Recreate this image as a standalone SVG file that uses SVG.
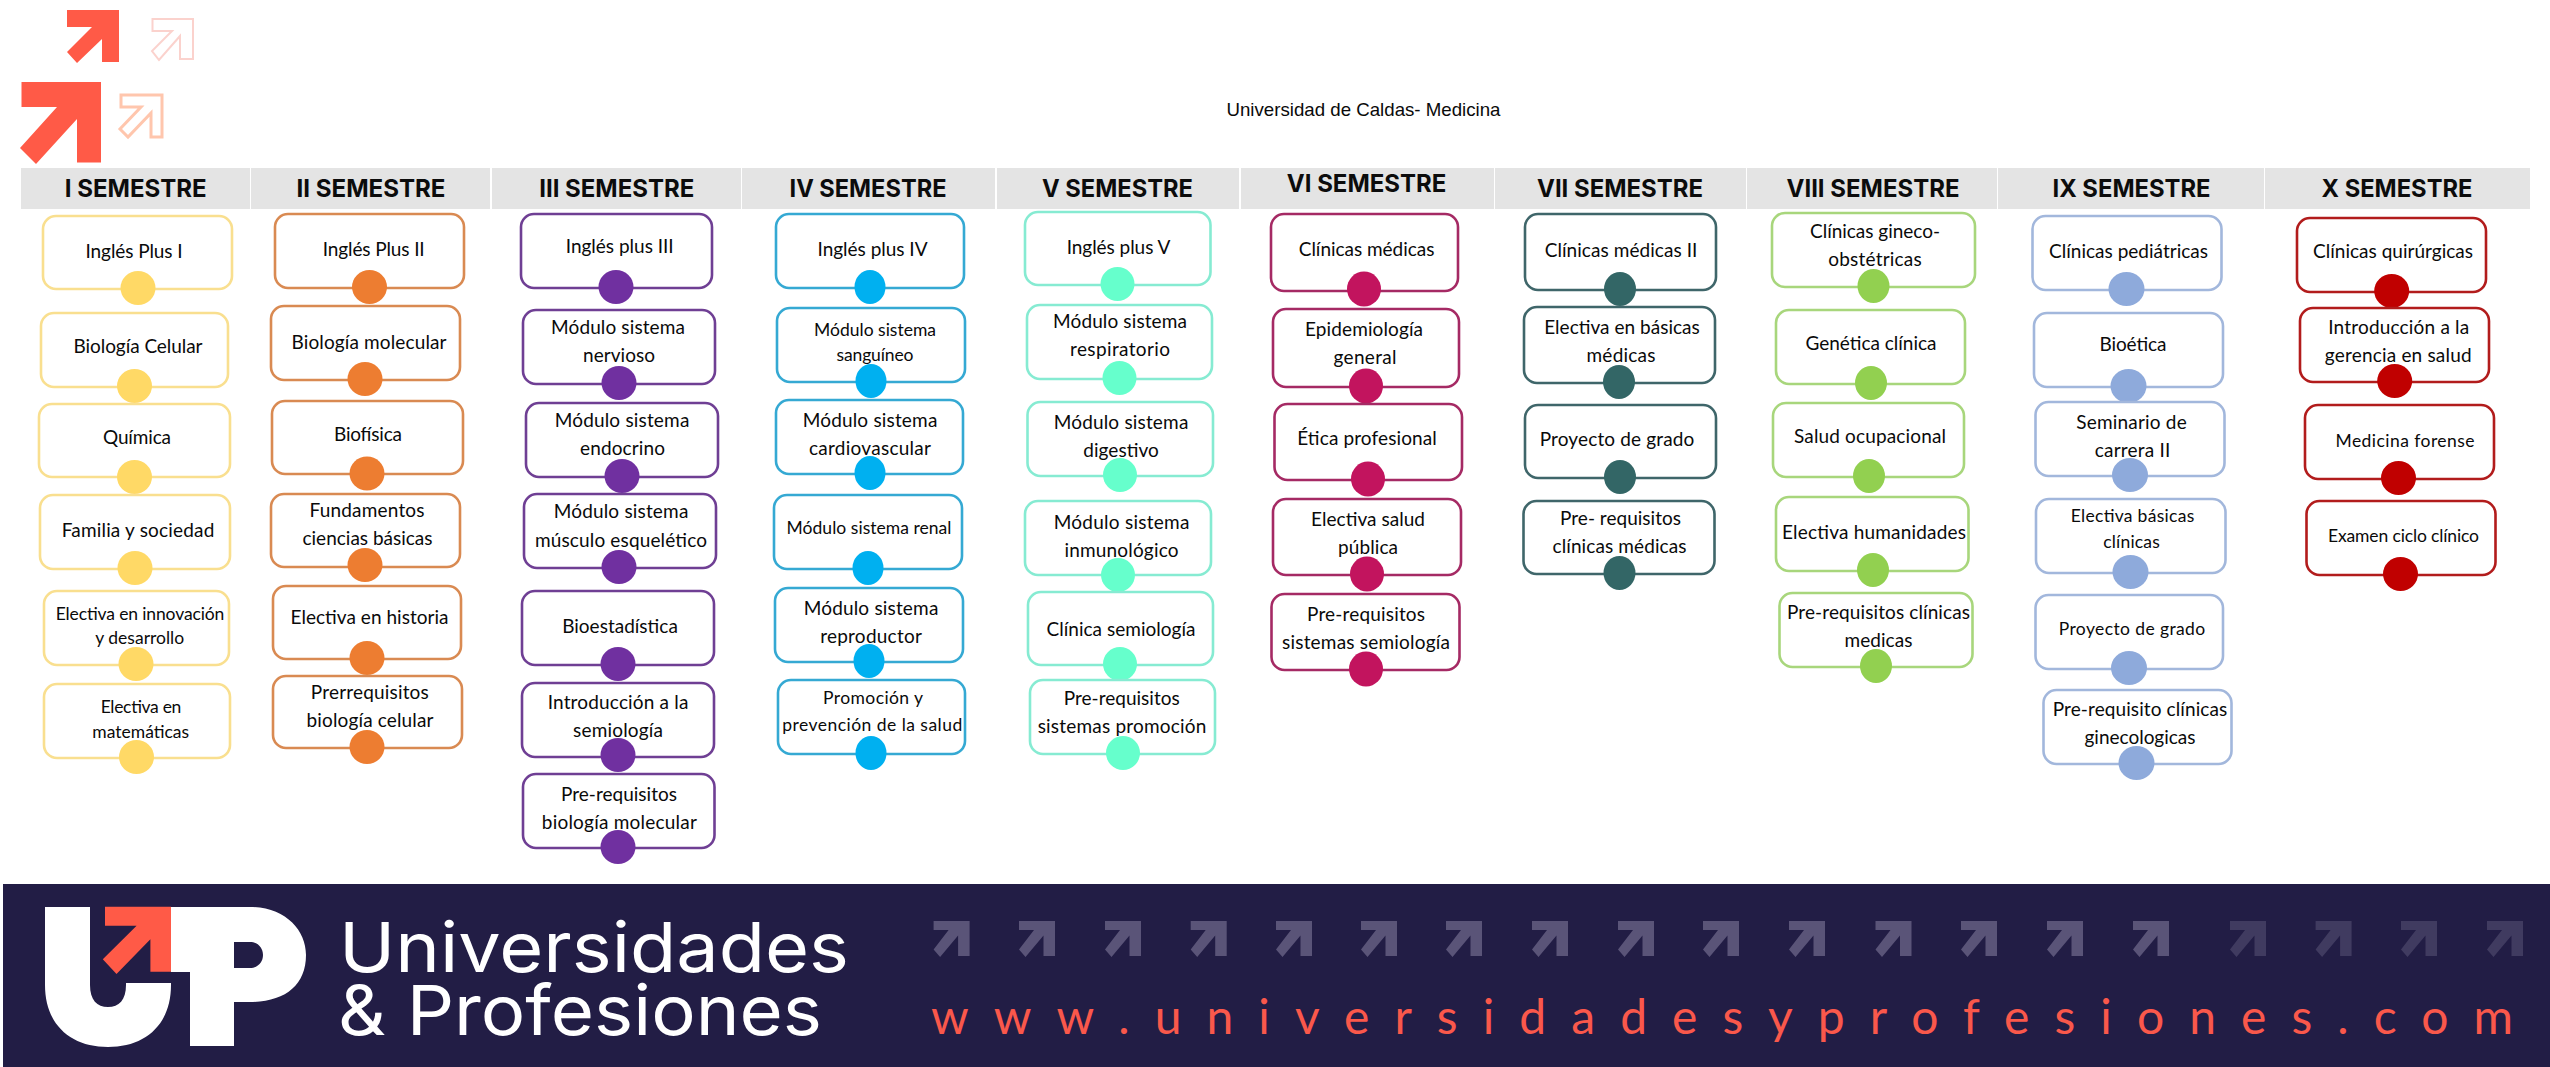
<svg xmlns="http://www.w3.org/2000/svg" width="2550" height="1067" viewBox="0 0 2550 1067">
<style>
text{font-family:"Lato","Liberation Sans",sans-serif;fill:#0a0a0a;text-anchor:middle}
.n rect{fill:#fff;stroke-width:2.6;rx:13px;ry:13px}
.n text{font-size:19px}
.n text.s{font-size:17.5px}
.h rect{fill:#e4e4e4}
.h text{font-family:"Inter","Liberation Sans",sans-serif;font-weight:700;font-size:24px;fill:#0c0c0c}
.c1 rect{stroke:#f9df8f}.c1 ellipse{fill:#ffd966;rx:17.5px;ry:17px}
.c2 rect{stroke:#d98a52}.c2 ellipse{fill:#ed7d31;rx:17.5px;ry:17px}
.c3 rect{stroke:#6f3f94}.c3 ellipse{fill:#7030a0;rx:17.5px;ry:17px}
.c4 rect{stroke:#35a9d3}.c4 ellipse{fill:#00b0f0;rx:15.5px;ry:17px}
.c5 rect{stroke:#86ebd2}.c5 ellipse{fill:#66ffcc;rx:17px;ry:17px}
.c6 rect{stroke:#a52a64}.c6 ellipse{fill:#c2145e;rx:17px;ry:17.5px}
.c7 rect{stroke:#3f666a}.c7 ellipse{fill:#336666;rx:16px;ry:17px}
.c8 rect{stroke:#a8d67c}.c8 ellipse{fill:#92d050;rx:16px;ry:17px}
.c9 rect{stroke:#a2b7dc}.c9 ellipse{fill:#8eaadb;rx:18px;ry:17px}
.c10 rect{stroke:#b21c1c}.c10 ellipse{fill:#c00000;rx:17.5px;ry:17px}
.fa1{fill:#5a5478}.fa2{fill:#403b60}
.w{font-family:"Inter","Liberation Sans",sans-serif;font-weight:400;font-size:69px;fill:#fff}
</style>
<defs><path id="fa" d="M0,0H36V35H24.5V14.5L6.5,36L0,28.5L15,9H0Z"/></defs>
<rect width="2550" height="1067" fill="#fff"/>
<g id="deco">
<path d="M67,10H119V62H102V39L77,63L67,52L92,27H67Z" fill="#ff5a47"/>
<path d="M152.5,19H193V59H180V36L159,60L152,51L172,31H152.5Z" fill="#fff" stroke="#fbd2cd" stroke-width="2"/>
<path d="M21.5,82H101V162.5H77V119L36,164L20,148L57,107H21.5Z" fill="#ff5a47"/>
<path d="M121,95H162V137H151V113L128,137L120,129L141,107H121Z" fill="#fff" stroke="#ffc6ad" stroke-width="3"/>
</g>
<text id="title" x="1363.5" y="116" textLength="274" lengthAdjust="spacingAndGlyphs" style="font-family:'Liberation Sans',sans-serif;font-size:18.6px">Universidad de Caldas- Medicina</text>
<g id="headers" class="h">
<rect x="21" y="168" width="229" height="41"/><rect x="251" y="168" width="239" height="41"/><rect x="492" y="168" width="249" height="41"/><rect x="742" y="168" width="253" height="41"/><rect x="997" y="168" width="242" height="41"/><rect x="1241" y="168" width="253" height="41"/><rect x="1495" y="168" width="251" height="41"/><rect x="1747" y="168" width="250" height="41"/><rect x="1998" y="168" width="266" height="41"/><rect x="2265" y="168" width="265" height="41"/>
<text x="135.7" y="197" textLength="142" lengthAdjust="spacingAndGlyphs">I SEMESTRE</text>
<text x="371" y="197" textLength="149" lengthAdjust="spacingAndGlyphs">II SEMESTRE</text>
<text x="616.7" y="197" textLength="155" lengthAdjust="spacingAndGlyphs">III SEMESTRE</text>
<text x="868" y="197" textLength="157" lengthAdjust="spacingAndGlyphs">IV SEMESTRE</text>
<text x="1117.5" y="197" textLength="151" lengthAdjust="spacingAndGlyphs">V SEMESTRE</text>
<text x="1366.6" y="192" textLength="159.5" lengthAdjust="spacingAndGlyphs">VI SEMESTRE</text>
<text x="1620" y="197" textLength="166" lengthAdjust="spacingAndGlyphs">VII SEMESTRE</text>
<text x="1873" y="197" textLength="173" lengthAdjust="spacingAndGlyphs">VIII SEMESTRE</text>
<text x="2131.5" y="197" textLength="158" lengthAdjust="spacingAndGlyphs">IX SEMESTRE</text>
<text x="2397" y="197" textLength="151" lengthAdjust="spacingAndGlyphs">X SEMESTRE</text>
</g>
<g id="connectors"></g>
<g id="s1">
<g id="n1-1" class="n c1"><rect x="43" y="216" width="189" height="73"/><text x="134" y="258" textLength="97">Inglés Plus I</text><ellipse cx="138" cy="288"/></g>
<g id="n1-2" class="n c1"><rect x="41" y="313" width="187" height="74"/><text x="138" y="353" textLength="129">Biología Celular</text><ellipse cx="134.5" cy="386"/></g>
<g id="n1-3" class="n c1"><rect x="39" y="404" width="191" height="73"/><text x="137" y="444" textLength="68">Química</text><ellipse cx="134.5" cy="477"/></g>
<g id="n1-4" class="n c1"><rect x="40" y="495" width="190" height="74"/><text x="138" y="537" textLength="152.6">Familia y sociedad</text><ellipse cx="135" cy="568"/></g>
<g id="n1-5" class="n c1"><rect x="44" y="591" width="185" height="74"/><text class="s" x="140" y="620" textLength="168.6">Electiva en innovación</text><text class="s" x="139.7" y="644" textLength="89">y desarrollo</text><ellipse cx="136" cy="664"/></g>
<g id="n1-6" class="n c1"><rect x="44" y="684" width="186" height="74"/><text class="s" x="141" y="713" textLength="80.7">Electiva en</text><text class="s" x="140.7" y="738" textLength="96.7">matemáticas</text><ellipse cx="136.5" cy="757"/></g>
</g>
<g id="s2">
<g id="n2-1" class="n c2"><rect x="275" y="214" width="189" height="74"/><text x="373.7" y="256" textLength="102">Inglés Plus II</text><ellipse cx="369.5" cy="287"/></g>
<g id="n2-2" class="n c2"><rect x="271" y="306" width="189" height="74"/><text x="369" y="349" textLength="155">Biología molecular</text><ellipse cx="365" cy="379"/></g>
<g id="n2-3" class="n c2"><rect x="272" y="401" width="191" height="73"/><text x="368" y="441" textLength="68">Biofísica</text><ellipse cx="367" cy="473.5"/></g>
<g id="n2-4" class="n c2"><rect x="271" y="494" width="189" height="73"/><text x="367" y="517" textLength="115">Fundamentos</text><text x="367.5" y="545" textLength="130">ciencias básicas</text><ellipse cx="365" cy="565"/></g>
<g id="n2-5" class="n c2"><rect x="273" y="586" width="188" height="73"/><text x="369.5" y="624" textLength="158">Electiva en historia</text><ellipse cx="367" cy="658"/></g>
<g id="n2-6" class="n c2"><rect x="273" y="676" width="189" height="72"/><text x="369.8" y="699" textLength="118">Prerrequisitos</text><text x="370" y="727" textLength="127">biología celular</text><ellipse cx="367" cy="747"/></g>
</g>
<g id="s3">
<g id="n3-1" class="n c3"><rect x="521" y="214" width="191" height="74"/><text x="619.7" y="253" textLength="108">Inglés plus III</text><ellipse cx="616" cy="287"/></g>
<g id="n3-2" class="n c3"><rect x="523" y="310" width="192" height="74"/><text x="618" y="334" textLength="134">Módulo sistema</text><text x="619" y="362" textLength="72">nervioso</text><ellipse cx="619" cy="383"/></g>
<g id="n3-3" class="n c3"><rect x="526" y="403" width="192" height="74"/><text x="622" y="427" textLength="134.7">Módulo sistema</text><text x="622.5" y="455" textLength="85">endocrino</text><ellipse cx="622" cy="476"/></g>
<g id="n3-4" class="n c3"><rect x="524" y="494" width="192" height="74"/><text x="621" y="518" textLength="134.7">Módulo sistema</text><text x="621" y="547" textLength="172">músculo esquelético</text><ellipse cx="619" cy="567"/></g>
<g id="n3-5" class="n c3"><rect x="522" y="591" width="192" height="74"/><text x="620" y="633" textLength="115.7">Bioestadística</text><ellipse cx="618" cy="664"/></g>
<g id="n3-6" class="n c3"><rect x="522" y="683" width="192" height="74"/><text x="618" y="709" textLength="140.7">Introducción a la</text><text x="618" y="737" textLength="90">semiología</text><ellipse cx="618" cy="755"/></g>
<g id="n3-7" class="n c3"><rect x="523" y="774" width="191.5" height="74"/><text x="619" y="801" textLength="116">Pre-requisitos</text><text x="619.3" y="829" textLength="155">biología molecular</text><ellipse cx="618" cy="847"/></g>
</g>
<g id="s4">
<g id="n4-1" class="n c4"><rect x="776" y="214" width="188" height="74"/><text x="872.5" y="256" textLength="110">Inglés plus IV</text><ellipse cx="870" cy="287"/></g>
<g id="n4-2" class="n c4"><rect x="777" y="308" width="188" height="74"/><text class="s" x="875" y="336" textLength="122">Módulo sistema</text><text class="s" x="875" y="361" textLength="77">sanguíneo</text><ellipse cx="871" cy="381"/></g>
<g id="n4-3" class="n c4"><rect x="776" y="400" width="187" height="74"/><text x="870" y="427" textLength="134.7">Módulo sistema</text><text x="870" y="455" textLength="122">cardiovascular</text><ellipse cx="870" cy="473"/></g>
<g id="n4-4" class="n c4"><rect x="774" y="495" width="188" height="74"/><text class="s" x="869" y="534" textLength="165">Módulo sistema renal</text><ellipse cx="868" cy="568"/></g>
<g id="n4-5" class="n c4"><rect x="775" y="588" width="188" height="74"/><text x="871" y="615" textLength="134.7">Módulo sistema</text><text x="871" y="643" textLength="101.7">reproductor</text><ellipse cx="869" cy="661"/></g>
<g id="n4-6" class="n c4"><rect x="778" y="680" width="187" height="74"/><text class="s" x="873" y="704" textLength="100">Promoción y</text><text class="s" x="872.2" y="731" textLength="180">prevención de la salud</text><ellipse cx="871" cy="753"/></g>
</g>
<g id="s5">
<g id="n5-1" class="n c5"><rect x="1025" y="212" width="185.5" height="73"/><text x="1118.5" y="254" textLength="103.7">Inglés plus V</text><ellipse cx="1117.5" cy="284"/></g>
<g id="n5-2" class="n c5"><rect x="1027" y="305" width="185" height="74"/><text x="1120" y="328" textLength="134">Módulo sistema</text><text x="1120" y="356" textLength="100">respiratorio</text><ellipse cx="1119.5" cy="378"/></g>
<g id="n5-3" class="n c5"><rect x="1027.5" y="402" width="185.5" height="74"/><text x="1121" y="429" textLength="134.7">Módulo sistema</text><text x="1121" y="457" textLength="75.6">digestivo</text><ellipse cx="1120" cy="475"/></g>
<g id="n5-4" class="n c5"><rect x="1025" y="501" width="186" height="74"/><text x="1121.5" y="529" textLength="135.7">Módulo sistema</text><text x="1121.5" y="557" textLength="114">inmunológico</text><ellipse cx="1118" cy="575"/></g>
<g id="n5-5" class="n c5"><rect x="1028" y="592" width="185" height="73"/><text x="1121" y="636" textLength="149">Clínica semiología</text><ellipse cx="1120" cy="664"/></g>
<g id="n5-6" class="n c5"><rect x="1030" y="680" width="185" height="74"/><text x="1121.7" y="705" textLength="116">Pre-requisitos</text><text x="1122" y="733" textLength="168.7">sistemas promoción</text><ellipse cx="1123" cy="753"/></g>
</g>
<g id="s6">
<g id="n6-1" class="n c6"><rect x="1271" y="214" width="187" height="77"/><text x="1366.6" y="256" textLength="135.7">Clínicas médicas</text><ellipse cx="1364" cy="289"/></g>
<g id="n6-2" class="n c6"><rect x="1273" y="309" width="186" height="78"/><text x="1364" y="336" textLength="118">Epidemiología</text><text x="1365" y="364" textLength="63">general</text><ellipse cx="1366" cy="386"/></g>
<g id="n6-3" class="n c6"><rect x="1274.5" y="404" width="187.5" height="76"/><text x="1367" y="445" textLength="139.6">Ética profesional</text><ellipse cx="1368" cy="479"/></g>
<g id="n6-4" class="n c6"><rect x="1273" y="499" width="188" height="76"/><text x="1368" y="526" textLength="114">Electiva salud</text><text x="1368" y="554" textLength="60">pública</text><ellipse cx="1367" cy="574"/></g>
<g id="n6-5" class="n c6"><rect x="1271.5" y="594" width="188" height="76"/><text x="1366" y="621" textLength="118">Pre-requisitos</text><text x="1366" y="649" textLength="168">sistemas semiología</text><ellipse cx="1366" cy="669"/></g>
</g>
<g id="s7">
<g id="n7-1" class="n c7"><rect x="1525" y="214" width="191" height="76"/><text x="1621" y="257" textLength="152.7">Clínicas médicas II</text><ellipse cx="1620" cy="289"/></g>
<g id="n7-2" class="n c7"><rect x="1524" y="307" width="191" height="76"/><text x="1622" y="334" textLength="155.6">Electiva en básicas</text><text x="1621" y="362" textLength="69">médicas</text><ellipse cx="1619" cy="382"/></g>
<g id="n7-3" class="n c7"><rect x="1525" y="405" width="191" height="73"/><text x="1617" y="446" textLength="154.6">Proyecto de grado</text><ellipse cx="1620" cy="477"/></g>
<g id="n7-4" class="n c7"><rect x="1523.5" y="501" width="191" height="73"/><text x="1620.5" y="525" textLength="121">Pre- requisitos</text><text x="1619.5" y="553" textLength="134">clínicas médicas</text><ellipse cx="1619.5" cy="573"/></g>
</g>
<g id="s8">
<g id="n8-1" class="n c8"><rect x="1772" y="213" width="203" height="74"/><text x="1875" y="238" textLength="130">Clínicas gineco-</text><text x="1875" y="266" textLength="93.5">obstétricas</text><ellipse cx="1873.5" cy="286"/></g>
<g id="n8-2" class="n c8"><rect x="1776" y="310" width="189" height="74"/><text x="1871" y="350" textLength="131">Genética clínica</text><ellipse cx="1871" cy="383"/></g>
<g id="n8-3" class="n c8"><rect x="1773" y="403" width="191" height="74"/><text x="1870" y="443" textLength="152">Salud ocupacional</text><ellipse cx="1869" cy="476"/></g>
<g id="n8-4" class="n c8"><rect x="1776" y="497" width="192.5" height="74"/><text x="1874" y="539" textLength="184">Electiva humanidades</text><ellipse cx="1873" cy="570"/></g>
<g id="n8-5" class="n c8"><rect x="1779.5" y="593" width="193" height="74"/><text x="1878.5" y="619" textLength="183">Pre-requisitos clínicas</text><text x="1878.5" y="647" textLength="68">medicas</text><ellipse cx="1876" cy="666"/></g>
</g>
<g id="s9">
<g id="n9-1" class="n c9"><rect x="2032.5" y="216" width="189" height="74"/><text x="2128.5" y="258" textLength="159">Clínicas pediátricas</text><ellipse cx="2126.5" cy="289"/></g>
<g id="n9-2" class="n c9"><rect x="2034" y="313" width="189" height="74"/><text x="2133" y="351" textLength="67">Bioética</text><ellipse cx="2128.5" cy="386"/></g>
<g id="n9-3" class="n c9"><rect x="2035.5" y="402" width="189" height="74"/><text x="2131.5" y="429" textLength="110.5">Seminario de</text><text x="2132.5" y="457" textLength="75.5">carrera II</text><ellipse cx="2130" cy="475"/></g>
<g id="n9-4" class="n c9"><rect x="2036" y="499" width="189.5" height="74"/><text class="s" x="2132.5" y="522" textLength="123.5">Electiva básicas</text><text class="s" x="2131.5" y="548" textLength="56.5">clínicas</text><ellipse cx="2130.5" cy="572"/></g>
<g id="n9-5" class="n c9"><rect x="2035.5" y="595" width="187.5" height="74"/><text class="s" x="2132" y="635" textLength="146.5">Proyecto de grado</text><ellipse cx="2129" cy="668"/></g>
<g id="n9-6" class="n c9"><rect x="2043.5" y="690" width="188" height="74"/><text x="2140" y="716" textLength="174.5">Pre-requisito clínicas</text><text x="2140" y="744" textLength="111">ginecologicas</text><ellipse cx="2136.5" cy="763"/></g>
</g>
<g id="s10">
<g id="n10-1" class="n c10"><rect x="2297" y="218" width="189" height="74"/><text x="2393" y="258" textLength="160">Clínicas quirúrgicas</text><ellipse cx="2391.7" cy="291"/></g>
<g id="n10-2" class="n c10"><rect x="2300" y="308" width="189" height="74"/><text x="2398.7" y="334" textLength="141">Introducción a la</text><text x="2398.2" y="362" textLength="146.7">gerencia en salud</text><ellipse cx="2394.7" cy="381"/></g>
<g id="n10-3" class="n c10"><rect x="2305" y="405" width="189" height="74"/><text class="s" x="2405" y="447" textLength="139">Medicina forense</text><ellipse cx="2398.5" cy="478"/></g>
<g id="n10-4" class="n c10"><rect x="2306.5" y="501" width="189" height="74"/><text class="s" x="2403.5" y="542" textLength="151">Examen ciclo clínico</text><ellipse cx="2400.5" cy="574"/></g>
</g>
<g id="footer">
<rect x="3" y="884" width="2547" height="183" fill="#221d45"/>
<path d="M45,907H90V985C90,1000 97,1007 108,1007C119,1007 126,1000 126,985V983H171V985C171,1025 145,1047 108,1047C71,1047 45,1025 45,985Z" fill="#fff"/>
<path fill-rule="evenodd" d="M171,907H250C285,907 306,930 306,955C306,985 285,1002 250,1002H234V1046H190V972H171ZM234,942V968H250C258,968 263,962 263,955C263,948 258,942 250,942Z" fill="#fff"/>
<path d="M105,906.7H171V971.7H150.4V939.3L116.5,974L102.8,959.3L136.6,925.7H105Z" fill="#ff5a47"/>
<text class="w" x="594" y="972" textLength="510" lengthAdjust="spacingAndGlyphs">Universidades</text>
<text class="w" x="580" y="1035" textLength="484" lengthAdjust="spacingAndGlyphs">&amp; Profesiones</text>
<g class="fa1">
<use href="#fa" x="933.6" y="921"/><use href="#fa" x="1019" y="921"/><use href="#fa" x="1105" y="921"/><use href="#fa" x="1190.7" y="921"/><use href="#fa" x="1276" y="921"/><use href="#fa" x="1361" y="921"/><use href="#fa" x="1446" y="921"/><use href="#fa" x="1532" y="921"/><use href="#fa" x="1618" y="921"/><use href="#fa" x="1703" y="921"/><use href="#fa" x="1789" y="921"/><use href="#fa" x="1875.5" y="921"/><use href="#fa" x="1961" y="921"/><use href="#fa" x="2047" y="921"/><use href="#fa" x="2133" y="921"/>
</g>
<g class="fa2">
<use href="#fa" x="2230" y="921"/><use href="#fa" x="2315.6" y="921"/><use href="#fa" x="2401" y="921"/><use href="#fa" x="2487" y="921"/>
</g>
<text x="1722" y="1034" textLength="1582" style="font-size:48px;fill:#fa584b">www.universidadesyprofesiones.com</text>
</g>
</svg>
